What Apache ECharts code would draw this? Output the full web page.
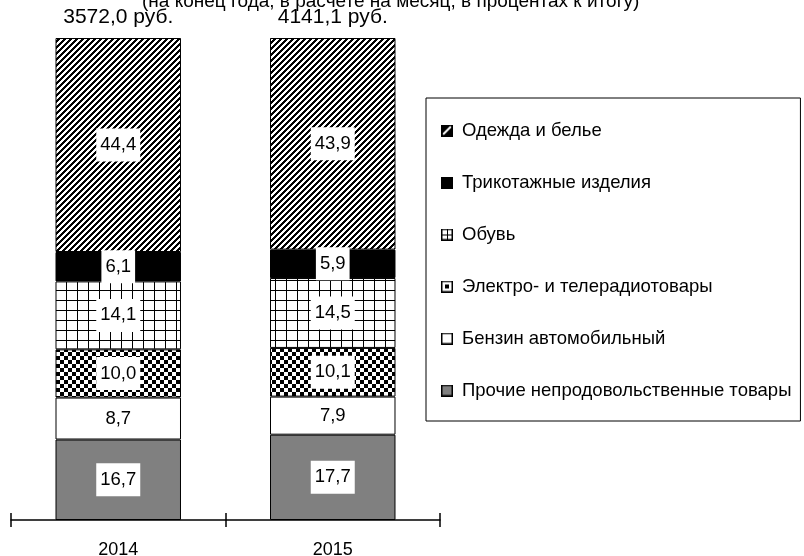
<!DOCTYPE html>
<html>
<head>
<meta charset="utf-8">
<script src="https://cdn.jsdelivr.net/npm/echarts@6/dist/echarts.min.js"></script>
<style>
  html, body { margin: 0; padding: 0; background: #fff; }
  #chart { width: 804px; height: 556px; }
</style>
</head>
<body>
<div id="chart"></div>
<script>
  const years = ['2014', '2015']
  const totals = ['3572,0 руб.', '4141,1 руб.']
  // shares, % of total, bottom to top
  const prochie = [16.7, 17.7]
  const benzin = [8.7, 7.9]
  const elektro = [10.0, 10.1]
  const obuv = [14.1, 14.5]
  const trikotazh = [6.1, 5.9]
  const odezhda = [44.4, 43.9]
  const names = [
    'Прочие непродовольственные товары',
    'Бензин автомобильный',
    'Электро- и телерадиотовары',
    'Обувь',
    'Трикотажные изделия',
    'Одежда и белье'
  ]
  const subtitle = '(на конец года, в расчете на месяц, в процентах к итогу)'

  const FONT = 'Liberation Sans, Arial, sans-serif'

  // little canvas tiles for the hatch fills
  function tile(w, h, isBlack) {
    const c = document.createElement('canvas')
    c.width = w
    c.height = h
    const ctx = c.getContext('2d')
    ctx.fillStyle = '#fff'
    ctx.fillRect(0, 0, w, h)
    ctx.fillStyle = '#000'
    for (let y = 0; y < h; y++) {
      for (let x = 0; x < w; x++) {
        if (isBlack(x, y)) ctx.fillRect(x, y, 1, 1)
      }
    }
    return c
  }
  const stripes = tile(6, 6, (x, y) => (x + y) % 6 < 3)
  const checker = tile(8, 8, (x, y) => (Math.floor(x / 4) + Math.floor(y / 4)) % 2 === 1)
  const grid = tile(11, 10, (x, y) => x === 0 || y === 0)

  function icon(draw) {
    const c = document.createElement('canvas')
    c.width = 12
    c.height = 12
    const ctx = c.getContext('2d')
    draw(ctx)
    ctx.strokeStyle = '#000'
    ctx.lineWidth = 1.5
    ctx.strokeRect(0.75, 0.75, 10.5, 10.5)
    return 'image://' + c.toDataURL()
  }
  const icons = [
    icon(ctx => { ctx.fillStyle = '#808080'; ctx.fillRect(0, 0, 12, 12) }),
    icon(ctx => { ctx.fillStyle = '#fff'; ctx.fillRect(0, 0, 12, 12) }),
    icon(ctx => {
      ctx.fillStyle = '#fff'; ctx.fillRect(0, 0, 12, 12)
      ctx.fillStyle = '#000'; ctx.fillRect(4, 4, 4, 4)
    }),
    icon(ctx => {
      ctx.fillStyle = '#fff'; ctx.fillRect(0, 0, 12, 12)
      ctx.fillStyle = '#000'; ctx.fillRect(6, 0, 1, 12); ctx.fillRect(0, 6, 12, 1)
    }),
    icon(ctx => { ctx.fillStyle = '#000'; ctx.fillRect(0, 0, 12, 12) }),
    icon(ctx => {
      ctx.fillStyle = '#000'; ctx.fillRect(0, 0, 12, 12)
      ctx.strokeStyle = '#fff'; ctx.lineWidth = 2
      ctx.beginPath(); ctx.moveTo(2, 10); ctx.lineTo(10, 2); ctx.stroke()
    })
  ]

  const values = [prochie, benzin, elektro, obuv, trikotazh, odezhda]
  const fills = [
    '#808080',
    '#ffffff',
    {image: checker, repeat: 'repeat'},
    {image: grid, repeat: 'repeat'},
    '#000000',
    {image: stripes, repeat: 'repeat'}
  ]

  const chart = echarts.init(document.getElementById('chart'))

  chart.setOption({
    animation: false,
    backgroundColor: '#fff',
    textStyle: {fontFamily: FONT},
    title: {
      text: subtitle,
      left: 142,
      top: -8,
      padding: 0,
      textStyle: {fontSize: 19, fontWeight: 'normal', color: '#000', fontFamily: FONT}
    },
    legend: {
      orient: 'vertical',
      left: 426,
      top: 98,
      padding: [23, 9, 21, 15],
      borderColor: '#000',
      borderWidth: 1,
      itemWidth: 12,
      itemHeight: 12,
      itemGap: 33,
      data: names.slice().reverse().map((n, i) => ({name: n, icon: icons[names.length - 1 - i]})),
      textStyle: {fontSize: 18.5, lineHeight: 18, color: '#000', fontFamily: FONT, padding: [0, 0, 0, 4]}
    },
    grid: {left: 11, right: 364, top: 38, bottom: 36, outerBoundsMode: 'none'},
    xAxis: [{
      type: 'category',
      data: years,
      axisLine: {lineStyle: {color: '#000', width: 1.5}},
      axisTick: {show: true, length: 7, lineStyle: {color: '#000', width: 1.5}},
      axisLabel: {margin: 21, fontSize: 18, color: '#000', fontFamily: FONT}
    }, {
      type: 'category',
      data: years,
      position: 'bottom',
      axisLine: {show: false},
      axisTick: {show: true, inside: true, length: 7, lineStyle: {color: '#000', width: 1.5}},
      axisLabel: {show: false}
    }, {
      type: 'category',
      data: totals,
      position: 'top',
      axisLine: {show: false},
      axisTick: {show: false},
      axisLabel: {margin: 10, fontSize: 21, color: '#000', fontFamily: FONT}
    }],
    yAxis: {type: 'value', min: 0, max: 100, show: false},
    series: values.map((v, i) => ({
      name: names[i],
      type: 'bar',
      stack: 'total',
      barWidth: '58.5%',
      data: v,
      itemStyle: {color: fills[i], borderColor: '#000', borderWidth: 1},
      label: {
        show: true,
        position: 'inside',
        formatter: p => p.value.toFixed(1).replace('.', ','),
        fontSize: 18.5,
        color: '#000',
        fontFamily: FONT,
        backgroundColor: '#fff',
        padding: [7, 4]
      }
    }))
  })
</script>
</body>
</html>
